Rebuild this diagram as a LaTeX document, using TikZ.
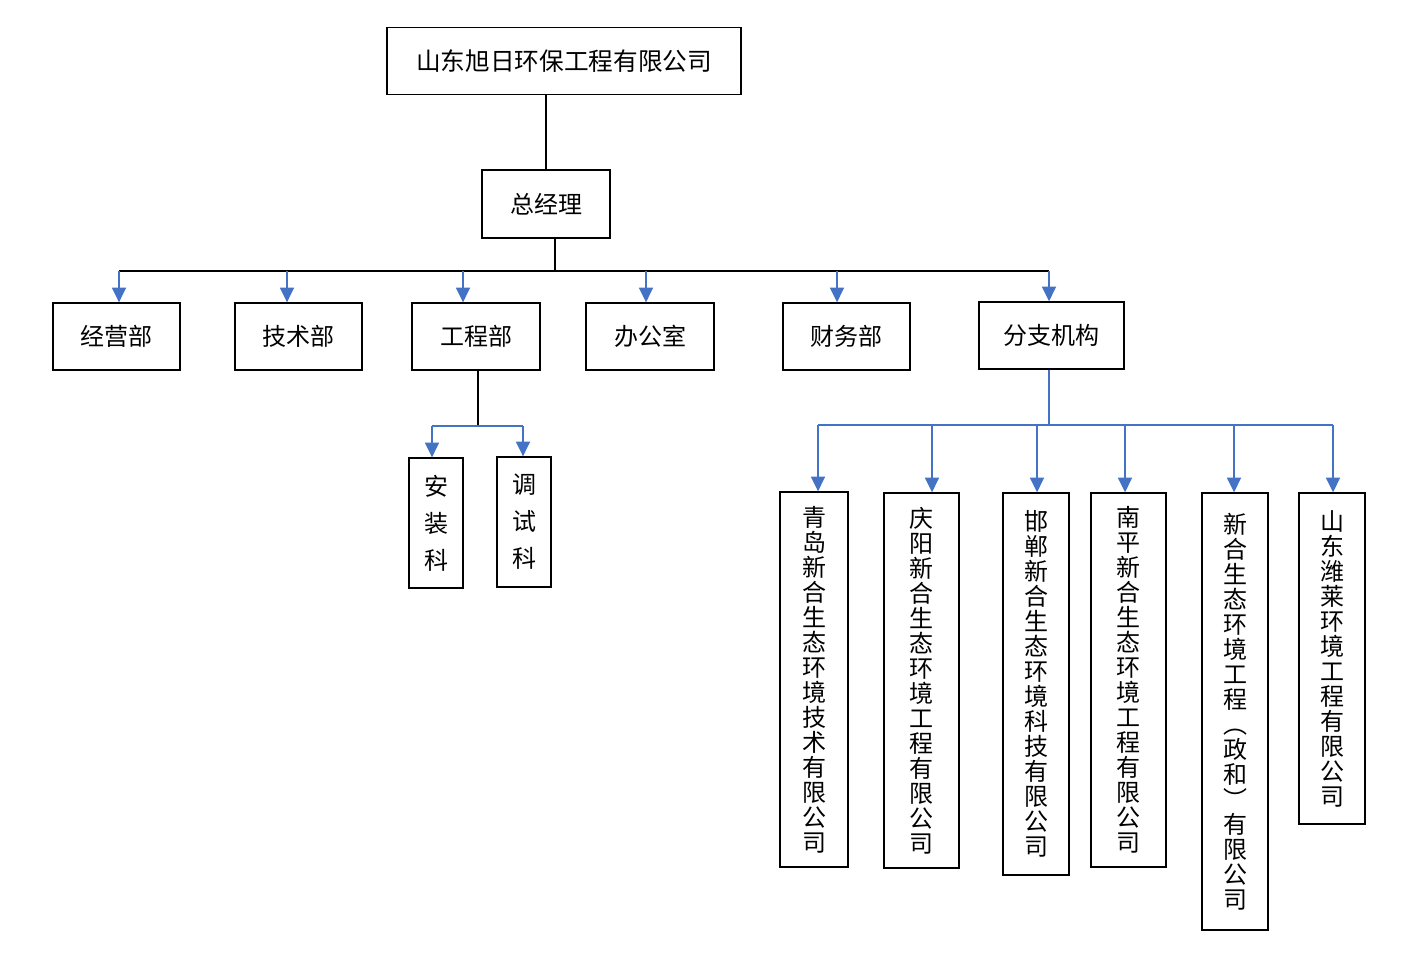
\documentclass[tikz,border=0pt]{standalone}
\usepackage{fontspec}
\setmainfont{Noto Sans CJK SC}
\usetikzlibrary{arrows.meta}
\definecolor{lnblue}{HTML}{4472C4}
\newcommand\pxu{0.75pt}
\begin{document}
\begin{tikzpicture}[x=0.75pt,y=-0.75pt,
 box/.style={draw=black,line width=1pt,inner sep=0pt,align=center,font=\fontsize{18}{18.75}\selectfont},
 wide/.style={font=\fontsize{18}{27.75}\selectfont},
 blk/.style={draw=black,line width=1pt},
 blu/.style={draw=lnblue,line width=1.3pt},
 arr/.style={blu,-{Triangle[width=10.5pt,length=11pt]},fill=lnblue},
]
\useasboundingbox (0,0) rectangle (1416,964);
% nodes
\node[box,minimum width=354*\pxu,minimum height=67*\pxu,font=\fontsize{18.5}{20}\selectfont] (top) at (564,61) {山东旭日环保工程有限公司};
\node[box,minimum width=128*\pxu,minimum height=68*\pxu] (gm) at (546,204) {总经理};
\node[box,minimum width=127*\pxu,minimum height=67*\pxu] (d1) at (116.5,336.5) {经营部};
\node[box,minimum width=127*\pxu,minimum height=67*\pxu] (d2) at (298.5,336.5) {技术部};
\node[box,minimum width=128*\pxu,minimum height=67*\pxu] (d3) at (476,336.5) {工程部};
\node[box,minimum width=128*\pxu,minimum height=67*\pxu] (d4) at (650,336.5) {办公室};
\node[box,minimum width=127*\pxu,minimum height=67*\pxu] (d5) at (846.5,336.5) {财务部};
\node[box,minimum width=145*\pxu,minimum height=67*\pxu] (d6) at (1051.5,335.5) {分支机构};
\node[box,wide,minimum width=54*\pxu,minimum height=130*\pxu] (s1) at (436,523) {安\\装\\科};
\node[box,wide,minimum width=54*\pxu,minimum height=130*\pxu] (s2) at (524,522) {调\\试\\科};
\node[box,minimum width=68*\pxu,minimum height=375*\pxu] (b1) at (814,679.5) {青\\岛\\新\\合\\生\\态\\环\\境\\技\\术\\有\\限\\公\\司};
\node[box,minimum width=75*\pxu,minimum height=375*\pxu] (b2) at (921.5,680.5) {庆\\阳\\新\\合\\生\\态\\环\\境\\工\\程\\有\\限\\公\\司};
\node[box,minimum width=66*\pxu,minimum height=382*\pxu] (b3) at (1036,684) {邯\\郸\\新\\合\\生\\态\\环\\境\\科\\技\\有\\限\\公\\司};
\node[box,minimum width=75*\pxu,minimum height=374*\pxu] (b4) at (1128.5,680) {南\\平\\新\\合\\生\\态\\环\\境\\工\\程\\有\\限\\公\\司};
\node[box,minimum width=66*\pxu,minimum height=437*\pxu] (b5) at (1235,711.5) {新\\合\\生\\态\\环\\境\\工\\程\\︵\\政\\和\\︶\\有\\限\\公\\司};
\node[box,minimum width=66*\pxu,minimum height=331*\pxu] (b6) at (1332,658.5) {山\\东\\潍\\莱\\环\\境\\工\\程\\有\\限\\公\\司};
% junction coordinates
\coordinate (bar) at (555,271);
\coordinate (a1) at (119,271);
\coordinate (a2) at (287,271);
\coordinate (a3) at (463,271);
\coordinate (a4) at (646,271);
\coordinate (a5) at (837,271);
\coordinate (a6) at (1049,271);
\coordinate (gj) at (478,426);
\coordinate (g1) at (432,426);
\coordinate (g2) at (523,426);
\coordinate (fj) at (1049,425);
\coordinate (f1) at (818,425);
\coordinate (f2) at (932,425);
\coordinate (f3) at (1037,425);
\coordinate (f4) at (1125,425);
\coordinate (f5) at (1234,425);
\coordinate (f6) at (1333,425);
% connectors
\draw[blk] (top.south -| gm.north) -- (gm.north);
\draw[blk] (gm.south -| bar) -- (bar);
\draw[blk] (a1) -- (a6);
\foreach \i in {1,...,6}{\draw[arr] (a\i) -- (a\i |- d\i.north);}
\draw[blk] (d3.south -| gj) -- (gj);
\draw[blu] (g1) -- (g2);
\draw[arr] (g1) -- (g1 |- s1.north);
\draw[arr] (g2) -- (g2 |- s2.north);
\draw[blu] (d6.south -| fj) -- (fj);
\draw[blu] (f1) -- (f6);
\foreach \i in {1,...,6}{\draw[arr] (f\i) -- (f\i |- b\i.north);}
\end{tikzpicture}
\end{document}
